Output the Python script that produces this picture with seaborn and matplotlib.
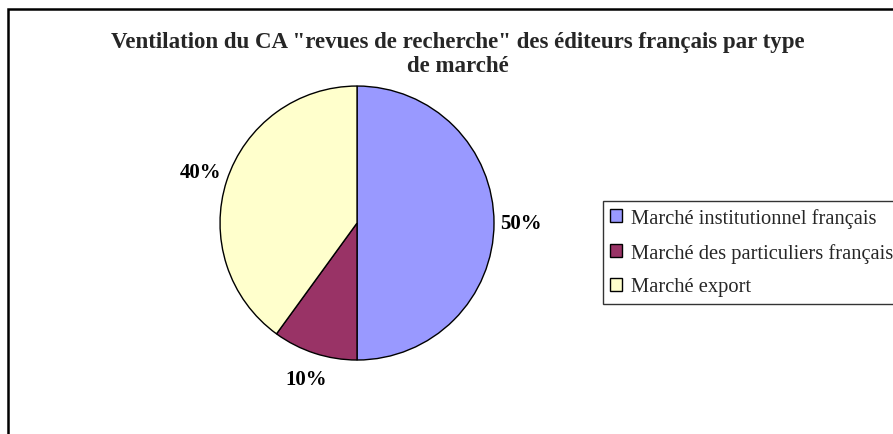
import matplotlib
matplotlib.use("Agg")
import matplotlib.pyplot as plt
import matplotlib.patches as mpatches
import seaborn as sns

# data
categories = ["Marché institutionnel français",
              "Marché des particuliers français",
              "Marché export"]
shares = [50, 10, 40]
colors = ["#9999FF", "#993366", "#FFFFCC"]
title = 'Ventilation du CA "revues de recherche" des éditeurs français par type\nde marché'

sns.set_style("white")
plt.rcParams['font.family'] = ['Liberation Serif', 'DejaVu Serif']

fig = plt.figure(figsize=(8.93, 4.35), dpi=100)
fig.patch.set_facecolor("white")

# outer chart frame (cut off on the right and bottom like the original)
frame = mpatches.Rectangle((0.009, -0.1), 1.2, 1.077, transform=fig.transFigure,
                           fill=False, edgecolor="black", linewidth=1.8)
fig.patches.append(frame)

ax = fig.add_axes([0.2464, 0.170, 0.3068, 0.630])
wedges, texts, autotexts = ax.pie(
    shares, colors=colors, startangle=90, counterclock=False,
    autopct=lambda p: f"{p:.0f}%", pctdistance=1.2,
    wedgeprops=dict(edgecolor="black", linewidth=1.0),
    textprops=dict(fontsize=15, fontweight="bold", color="black"))
ax.set_xlim(-1, 1)
ax.set_ylim(-1, 1)
ax.set_aspect("equal")
ax.axis("off")
for t in autotexts:
    t.set_clip_on(False)

fig.text(0.513, 0.875, title, ha="center", va="center", fontsize=16.5,
         fontweight="bold", linespacing=1.2, multialignment="center")

leg = fig.legend(wedges, categories, loc="upper left",
                 bbox_to_anchor=(0.675, 0.536), frameon=True, fancybox=False,
                 edgecolor="black", fontsize=14.8, handlelength=0.6,
                 handleheight=0.6, handletextpad=0.4, labelspacing=0.72,
                 borderpad=0.35, borderaxespad=0)
leg.get_frame().set_linewidth(1.0)

fig.savefig("out.png", dpi=100)
